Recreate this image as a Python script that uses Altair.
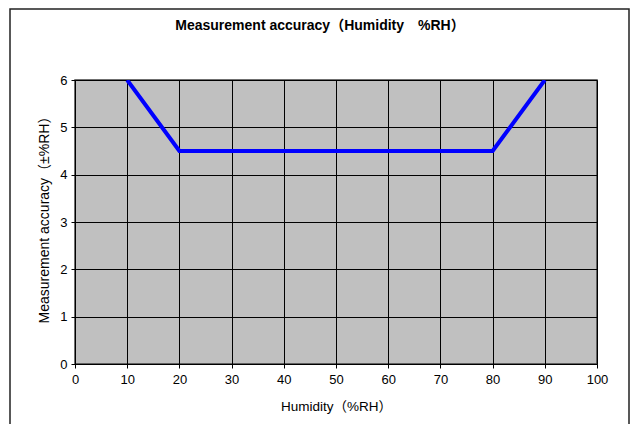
import altair as alt
import pandas as pd

humidity = [10, 20, 80, 90]
accuracy = [6, 4.5, 4.5, 6]
x_ticks = [0, 10, 20, 30, 40, 50, 60, 70, 80, 90, 100]
y_ticks = [0, 1, 2, 3, 4, 5, 6]
title_text = "Measurement accuracy（Humidity　%RH）"
x_title = "Humidity（%RH）"
y_title = "Measurement accuracy（±%RH）"

df = pd.DataFrame({"h": humidity, "a": accuracy})
one = pd.DataFrame({"t": [title_text]})

W, H = 522, 284
LEFT, TOP = 67, 72
FONT = "Liberation Sans, Noto Sans CJK JP"

x_enc = alt.X("h:Q", scale=alt.Scale(domain=[0, 100], nice=False),
              axis=alt.Axis(values=x_ticks, title=x_title, grid=True, gridColor="black",
                            gridOpacity=1, gridWidth=1, domainColor="black", tickColor="black",
                            tickSize=4, labelPadding=5, labelFontSize=13, labelColor="black",
                            labelFont=FONT, titleFont=FONT, labelFlush=False,
                            titleFontSize=13.5, titleFontWeight="normal", titleColor="black",
                            titlePadding=13))
y_enc = alt.Y("a:Q", scale=alt.Scale(domain=[0, 6], nice=False),
              axis=alt.Axis(values=y_ticks, title=y_title, grid=True, gridColor="black",
                            gridOpacity=1, gridWidth=1, domainColor="black", tickColor="black",
                            tickSize=4, labelPadding=4, labelFontSize=13, labelColor="black",
                            labelFont=FONT, titleFont=FONT, labelFlush=False,
                            titleFontSize=14, titleFontWeight="normal", titleColor="black",
                            titlePadding=8, titleY=136))

frame = alt.Chart(one).mark_rect(fillOpacity=0, stroke="#222222", strokeWidth=1.5).encode(
    x=alt.value(10 - 75), x2=alt.value(629 - 75),
    y=alt.value(8 - 80 + 1), y2=alt.value(450 - 80))

line = alt.Chart(df).mark_line(color="#0000ff", strokeWidth=4, clip=True).encode(
    x=x_enc, y=y_enc)

title = alt.Chart(one).mark_text(font=FONT, fontSize=14, fontWeight="bold",
                                 color="black", align="center", baseline="middle").encode(
    x=alt.value(320 - 75), y=alt.value(26 - 80), text="t:N")

chart = alt.layer(frame, line, title).properties(
    width=W, height=H,
    background="white",
    padding={"left": LEFT, "top": TOP, "right": 33, "bottom": 60},
    autosize=alt.AutoSizeParams(type="none"),
).configure_view(
    fill="#c0c0c0", stroke="#404040", strokeWidth=1.5
)

chart.save("out.html", embed_options={"renderer": "svg", "actions": False})
